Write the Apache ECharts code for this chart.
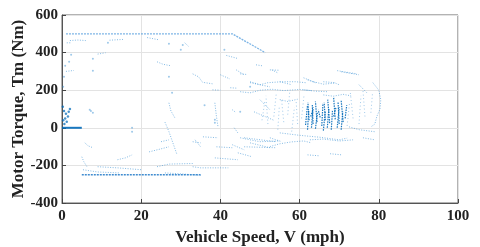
<!DOCTYPE html>
<html><head><meta charset="utf-8">
<script src="https://cdn.jsdelivr.net/npm/echarts@6/dist/echarts.min.js"></script>
<style>html,body{margin:0;padding:0;background:#fff}#c{width:480px;height:247px}</style>
</head><body><div id="c"></div>
<script>
// ---- data ----
const xTicks = [0, 20, 40, 60, 80, 100];
const yTicks = [-400, -200, 0, 200, 400, 600];
const xTitle = 'Vehicle Speed, V (mph)';
const yTitle = 'Motor Torque, Tm (Nm)';

const maxTorqueEnvelope = [[1,500],[43,500],[47,452],[51.3,400]];
const regenLimit = [[5,-250],[35,-250]];
const idleLine = [[0,0],[5,0]];

const accelTraces = [
  [[2,464],[4,467],[6,464]],
  [[12,466],[15.4,470]],
  [[1.2,452],[2.4,452]],
  [[9,392],[11,399]],
  [[1,300],[3,305]],
  [[21.5,480],[24.5,468]],
  [[31,452],[32,432]],
  [[41.5,385],[44.5,368]],
  [[24,351],[25.5,338],[27.5,330]],
  [[33,287],[34.5,271],[35.5,242],[38,234]],
  [[40,282],[42.4,260]],
  [[44,308],[46,282]],
  [[47.5,245],[50,229],[52.5,218]],
  [[38,202],[40,200]],
  [[42.5,213],[44,211]],
  [[45,287],[46.5,284]],
  [[49,335],[50.5,330]],
  [[53,308],[54.5,292]],
  [[52.5,308],[55,306]],
  [[69.5,304],[72,295],[74.5,287]],
  [[62,255],[64,240]],
  [[66,245],[69,240]],
  [[47.5,240],[50,229],[52,240],[55.5,245],[59,245],[61.5,240]],
  [[45,192],[47.5,186],[50,200],[53,205],[56,198],[60,204],[63,198]],
  [[55,245],[58,229]],
  [[61,266],[63.5,245]],
  [[63.5,245],[66,232],[69,238],[70,229]],
  [[70.5,298],[75,282]],
  [[75,229],[77,186]],
  [[61,202],[64,195],[67,192]],
  [[78.5,240],[80,200],[80.5,150],[80.3,100],[79.5,60],[79,20],[78,5]],
  [[27,133],[27.5,90],[28.5,53]],
  [[38.6,133],[39,60],[39.4,5]],
  [[43,96],[44,80]],
  [[50,149],[52.5,96]],
  [[48.5,85],[53.5,40]],
  [[55,150],[57,140],[59.5,152]],
  [[66,175],[68.5,168],[71,178],[73,170]]
];

const decelTraces = [
  [[45,-53],[47.5,-64],[50,-74],[55,-70]],
  [[55,-27],[60,-40],[65,-50],[70,-64],[72,-55]],
  [[72.5,5],[75,-10],[79,-21]],
  [[62,-144],[65,-149]],
  [[67.7,-138],[70.7,-144]],
  [[47.5,-80],[52.5,-106]],
  [[52.5,-53],[55.5,-74]],
  [[76,-53],[79,-64]],
  [[52.5,-100],[55,-85],[58,-75],[61,-70],[63,-80]],
  [[62.6,-64],[66,-60],[70,-70],[73.5,-64]],
  [[5.8,-80],[6.5,-95],[7.8,-106]],
  [[5,-154],[5.5,-180],[6.3,-207]],
  [[14,-170],[16,-160],[17.7,-144]],
  [[5.3,-223],[9,-235],[14.6,-240]],
  [[9,-207],[14,-213],[20,-223]],
  [[22,-128],[25,-112],[27,-101]],
  [[25,-74],[27,-64]],
  [[24,-207],[27,-193],[33,-190]],
  [[26,-240],[30,-245],[35,-253]],
  [[33,-207],[35,-213],[42,-213]],
  [[38.6,-160],[44.4,-170]],
  [[44.4,-133],[48,-154]],
  [[33.6,-64],[35,-101]],
  [[35.6,-48],[39.4,-53]],
  [[39,-101],[43,-106]],
  [[43,-90],[46,-117]],
  [[46,-53],[54,-74]],
  [[46,-101],[54,-106]],
  [[33,-74],[35,-80]],
  [[26,30],[27,-20],[28,-80],[29,-140]],
  [[43.5,0],[44.4,-27]]
];

// [speed, low torque, high torque, drift in speed]
const sparseStreaks = [
  [50.5,40,150,0.8],[52,20,170,-0.5],[53.5,60,180,0.6],[54.5,-10,120,0.4],[56,30,160,-0.6],
  [57,70,190,0.5],[58,-20,110,0.7],[59.5,20,150,-0.4],[60.5,50,170,0.6],[73.5,50,190,-0.7],
  [75,20,170,0.5],[76.5,60,200,-0.5],[78,80,180,0.4],[72,10,130,0.6]
];
const denseStreaks = [
  [61.5,15,120,0.5],[62,-10,90,0.3],[62.4,40,135,-0.3],[63,0,110,0.4],[63.4,20,125,-0.2],
  [64,-5,80,0.5],[64.4,30,140,-0.4],[65.6,10,130,0.3],[66,-15,90,0.5],[66.5,40,135,-0.3],
  [67,0,105,0.4],[67.6,25,150,-0.5],[68,-10,90,0.3],[69,45,160,-0.4],[69.5,0,110,0.5],
  [70,20,140,-0.3],[70.5,-10,85,0.4],[71,30,145,-0.5],[62.8,60,100,0.6],[65.2,55,95,-0.5],
  [68.6,60,110,0.6],[71.5,50,120,0.4]
];

const idleCluster = [[0.2,112],[0.5,90],[1,75],[1.5,60],[0.3,40],[2,100],[1.2,32],[0.8,50],[1.7,85],[0.6,20]];
const isolatedPoints = [
  [2.3,388],[1.8,351],[7.8,367],[7.8,303],[0.8,330],[0.5,271],[0.3,218],[11.6,452],
  [27,447],[30.5,441],[30,415],[27,271],[27.8,186],[41,415],[47.5,218],
  [7,96],[7.8,80],[7.3,90],[17.7,0],[17.7,-21],[38.6,43],[38.6,27],[45,85],[36,120]
];

// ---- chart ----
const chart = echarts.init(document.getElementById('c'));
const light = 'rgba(50,140,210,0.6)';
const dark = 'rgba(0,105,185,0.9)';
const segSeries = (pts, color, width, dash) => ({
  type: 'line', data: pts, symbol: 'none', silent: true, animation: false,
  lineStyle: { color, width, type: dash }
});
const series = [];
series.push(segSeries(maxTorqueEnvelope, 'rgba(80,155,220,0.75)', 1.3, [2, 1]));
series.push(segSeries(regenLimit, 'rgba(30,120,200,0.85)', 1.4, [2, 1]));
series.push(segSeries(idleLine, dark, 2, 'solid'));
accelTraces.forEach(t => series.push(segSeries(t, light, 1, [1, 1.5])));
decelTraces.forEach(t => series.push(segSeries(t, light, 1, [1, 1.5])));
sparseStreaks.forEach(s => series.push(segSeries([[s[0], s[1]], [s[0] + s[3], s[2]]], 'rgba(50,140,210,0.45)', 1, [1, 2.5])));
denseStreaks.forEach(s => series.push(segSeries([[s[0], s[1]], [s[0] + s[3], s[2]]], dark, 1.2, [1.5, 1])));
series.push({ type: 'scatter', data: idleCluster, symbolSize: 2.5, itemStyle: { color: dark }, silent: true, animation: false });
series.push({ type: 'scatter', data: isolatedPoints, symbolSize: 2, itemStyle: { color: light }, silent: true, animation: false });

const fontFamily = '"Liberation Serif","Times New Roman",serif';
chart.setOption({
  animation: false,
  grid: { left: 62, right: 22, top: 15, bottom: 44, containLabel: false, outerBoundsMode: 'none',
          show: true, borderColor: '#666', borderWidth: 1 },
  xAxis: {
    type: 'value', min: xTicks[0], max: xTicks[xTicks.length - 1], interval: 20,
    name: xTitle, nameLocation: 'middle', nameGap: 26, nameMoveOverlap: false,
    nameTextStyle: { fontFamily, fontWeight: 'bold', fontSize: 17, color: '#222' },
    axisLine: { onZero: false, lineStyle: { color: '#555' } },
    axisTick: { inside: true, length: 4, lineStyle: { color: '#444' } },
    axisLabel: { fontFamily, fontWeight: 'bold', fontSize: 15, color: '#222', margin: 6 },
    splitLine: { show: true, lineStyle: { color: '#e3e3e3' } }
  },
  yAxis: {
    type: 'value', min: yTicks[0], max: yTicks[yTicks.length - 1], interval: 200,
    name: yTitle, nameLocation: 'middle', nameGap: 35, nameMoveOverlap: false,
    nameTextStyle: { fontFamily, fontWeight: 'bold', fontSize: 17, color: '#222' },
    axisLine: { show: true, onZero: false, lineStyle: { color: '#555' } },
    axisTick: { show: true, inside: true, length: 4, lineStyle: { color: '#444' } },
    axisLabel: { fontFamily, fontWeight: 'bold', fontSize: 15, color: '#222', margin: 4 },
    splitLine: { show: true, lineStyle: { color: '#e3e3e3' } }
  },
  series
});
</script></body></html>
